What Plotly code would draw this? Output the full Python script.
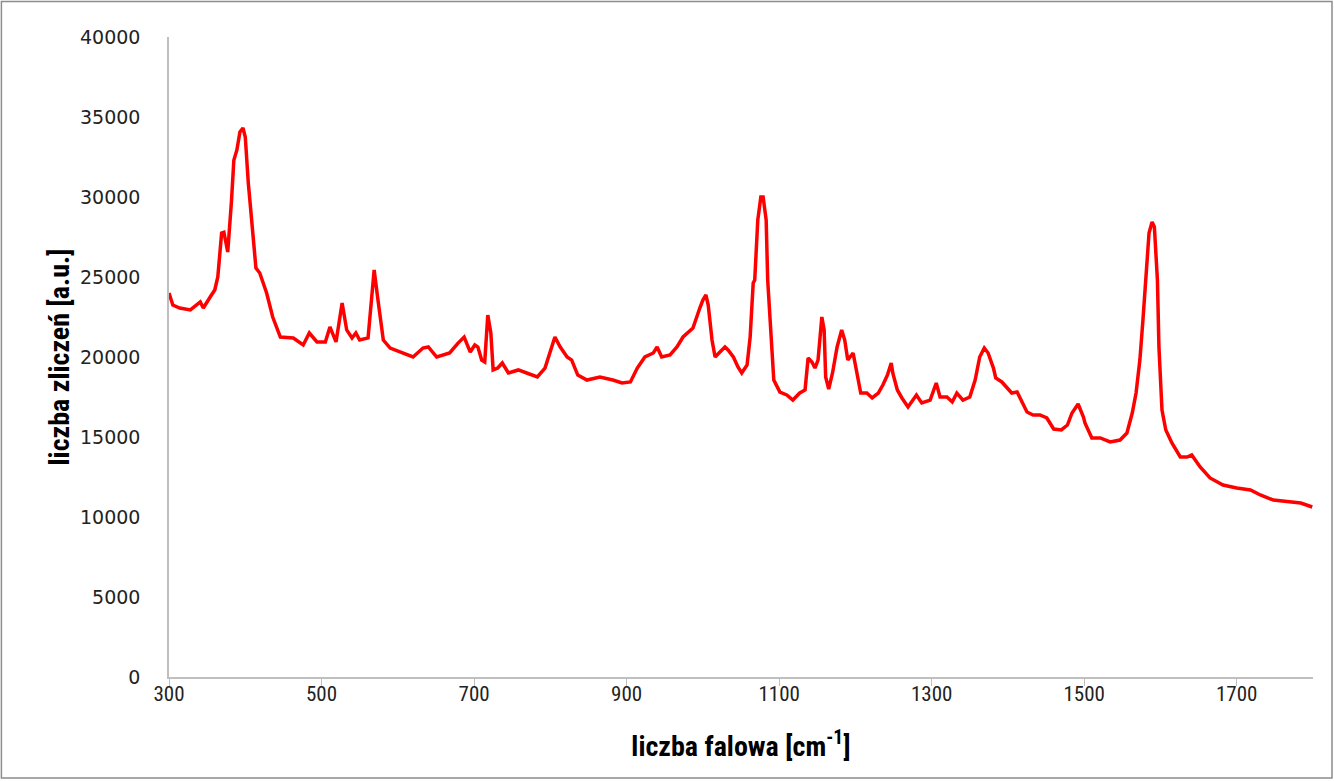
import plotly.graph_objects as go

wavenumber = [
    300, 305, 314, 328, 341, 345, 354, 360, 364, 369, 372, 377, 382, 385, 389, 393, 397, 400,
    404, 410, 414, 419, 428, 436, 446, 463, 476, 484, 494, 505, 511, 519, 527, 533, 540, 545,
    550, 561, 566, 569, 574, 581, 590, 603, 620, 633, 640, 651, 668, 679, 687, 695, 701, 705,
    710, 714, 718, 722, 725, 731, 737, 745, 758, 769, 783, 793, 800, 806, 813, 822, 828, 836,
    848, 865, 882, 894, 905, 914, 924, 935, 940, 946, 957, 966, 974, 987, 996, 1000, 1004, 1007,
    1012, 1016, 1025, 1029, 1033, 1040, 1046, 1051, 1058, 1062, 1066, 1068, 1072, 1076, 1079,
    1083, 1085, 1089, 1093, 1101, 1110, 1118, 1127, 1134, 1138, 1143, 1147, 1151, 1156, 1159,
    1161, 1165, 1170, 1176, 1182, 1186, 1190, 1197, 1202, 1207, 1215, 1222, 1230, 1236, 1242,
    1247, 1249, 1255, 1261, 1269, 1280, 1287, 1298, 1306, 1311, 1320, 1327, 1333, 1341, 1350,
    1357, 1363, 1369, 1374, 1381, 1384, 1392, 1398, 1405, 1412, 1419, 1425, 1433, 1442, 1451,
    1460, 1470, 1478, 1484, 1492, 1499, 1501, 1510, 1521, 1534, 1547, 1556, 1563, 1568, 1573,
    1577, 1581, 1585, 1589, 1592, 1596, 1598, 1602, 1607, 1615, 1626, 1635, 1641, 1652, 1665,
    1682, 1700, 1718, 1731, 1748, 1766, 1784, 1799,
]

counts = [
    24000, 23250, 23060, 22940, 23440, 23060, 23750, 24190, 25000, 27750, 27800, 26560, 29800,
    32300, 32940, 34060, 34310, 33750, 30870, 27300, 25560, 25250, 24000, 22500, 21250, 21190,
    20750, 21500, 20940, 20940, 21880, 20940, 23370, 21690, 21190, 21500, 21060, 21190, 23560,
    25440, 23560, 21060, 20560, 20310, 20000, 20560, 20625, 20000, 20250, 20870, 21250, 20310,
    20750, 20625, 19810, 19690, 22625, 21500, 19190, 19310, 19625, 19000, 19190, 19000, 18750,
    19310, 20440, 21250, 20625, 20000, 19810, 18870, 18560, 18750, 18560, 18375, 18440, 19310,
    20000, 20250, 20625, 20000, 20125, 20625, 21250, 21810, 23060, 23560, 23875, 23250, 21060,
    20000, 20440, 20625, 20440, 20000, 19375, 19000, 19500, 21250, 24625, 24810, 28560, 30000,
    30000, 28560, 24810, 21690, 18560, 17810, 17625, 17310, 17750, 17940, 19940, 19690, 19310,
    19810, 22500, 21690, 18750, 18000, 19000, 20625, 21690, 21060, 19810, 20250, 19000, 17750,
    17750, 17440, 17750, 18250, 18870, 19625, 19000, 17940, 17440, 16875, 17625, 17125, 17310,
    18375, 17500, 17500, 17190, 17750, 17310, 17500, 18560, 20000, 20560, 20250, 19310, 18690,
    18440, 18125, 17750, 17810, 17190, 16560, 16375, 16375, 16190, 15500, 15440, 15750, 16500,
    17060, 16250, 15875, 14940, 14940, 14690, 14810, 15250, 16500, 17750, 19810, 22310, 24810,
    27750, 28440, 28125, 24810, 20625, 16690, 15440, 14625, 13750, 13750, 13875, 13125, 12440,
    12000, 11810, 11690, 11375, 11060, 10940, 10875, 10625,
]

x_ticks = [300, 500, 700, 900, 1100, 1300, 1500, 1700]
y_ticks = [0, 5000, 10000, 15000, 20000, 25000, 30000, 35000, 40000]

narrow = "Roboto Condensed, Liberation Sans Narrow, Arial Narrow, Liberation Sans, sans-serif"

fig = go.Figure()
fig.add_trace(go.Scatter(
    x=wavenumber, y=counts, mode="lines",
    line=dict(color="#FF0000", width=3.5),
    showlegend=False, hoverinfo="x+y",
))

fig.update_layout(
    width=1334, height=781,
    margin=dict(l=169, r=21, t=37, b=104),
    paper_bgcolor="white", plot_bgcolor="white",
    shapes=[dict(type="rect", xref="paper", yref="paper",
                 x0=-0.1465, x1=1.0166, y0=-0.1580, y1=1.0555,
                 line=dict(color="#8C8C8C", width=1.5), fillcolor="rgba(0,0,0,0)",
                 layer="below")],
)

fig.update_xaxes(
    range=[300, 1800], tickmode="array", tickvals=x_ticks,
    ticktext=[str(v) for v in x_ticks],
    showgrid=False, zeroline=False, showline=True, linecolor="#BFBFBF", linewidth=1.5,
    ticks="outside", ticklen=7, tickcolor="#BFBFBF", tickwidth=1,
    ticklabelstandoff=-10,
    tickfont=dict(family=narrow, size=21, color="#222222"),
    title=dict(text="<b>liczba falowa [cm<sup>-1</sup>]</b>",
               font=dict(family=narrow, size=28, color="#000000"), standoff=31),
)

fig.update_yaxes(
    range=[0, 40000], tickmode="array", tickvals=y_ticks,
    ticktext=[str(v) for v in y_ticks],
    showgrid=False, zeroline=False, showline=True, linecolor="#BFBFBF", linewidth=1.5,
    ticks="", ticklabelstandoff=23,
    tickfont=dict(family="DejaVu Sans, Verdana, sans-serif", size=19, color="#222222"),
    title=dict(text="<b>liczba zliczeń [a.u.]</b>",
               font=dict(family=narrow, size=28, color="#000000"), standoff=2),
)

fig.write_html("out.html")
